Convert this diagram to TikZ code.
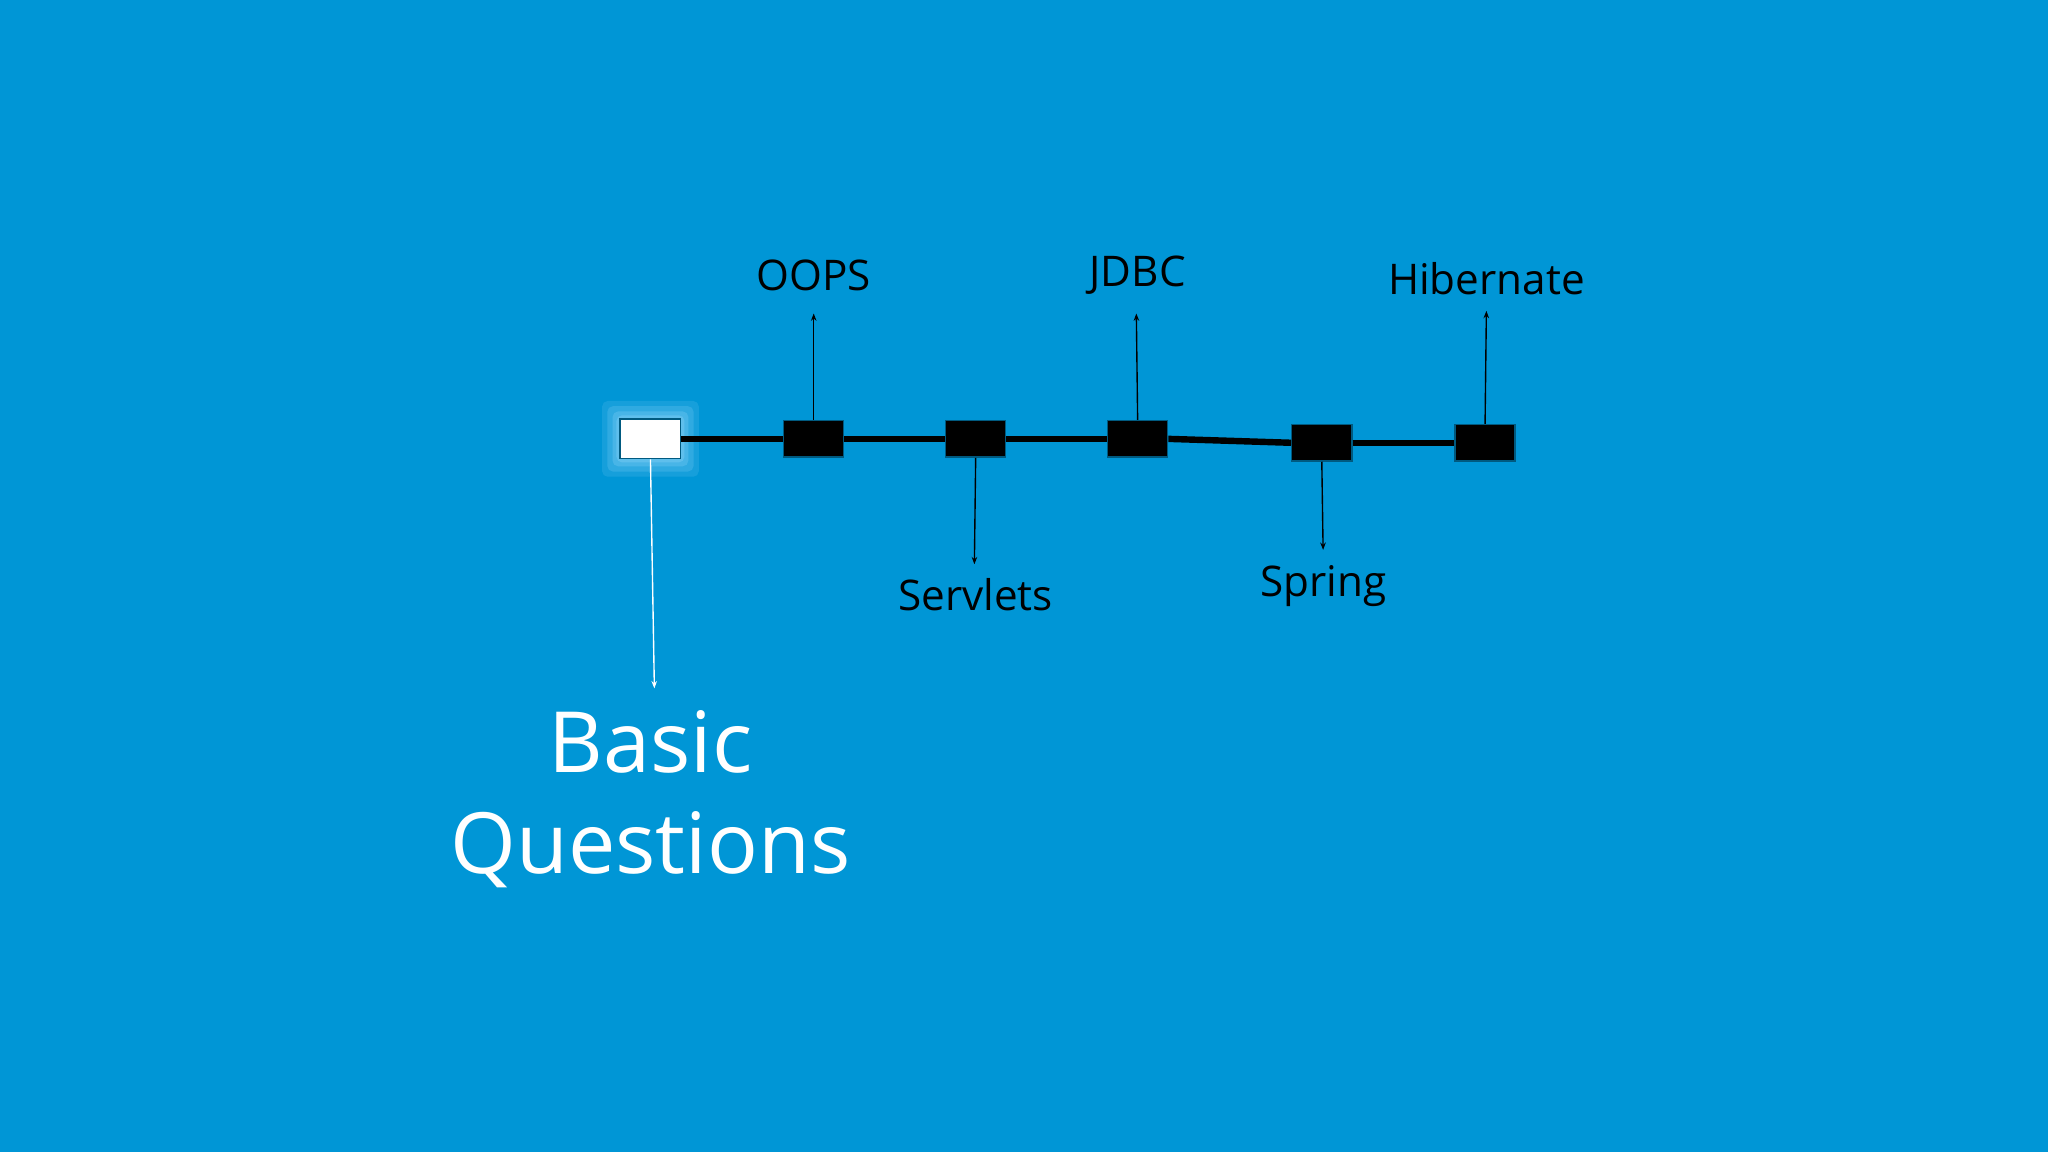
\documentclass[tikz,border=0pt]{standalone}
\usepackage{fontspec}
\setmainfont{Open Sans}
\usetikzlibrary{arrows.meta}
\definecolor{bg}{RGB}{0,150,214}
\definecolor{glow}{RGB}{150,215,250}
\begin{document}
\begin{tikzpicture}[x=0.05cm,y=-0.05cm,
  blk/.style={draw=bg!60!black,line width=1.5pt,fill=black,minimum width=46*0.05cm,minimum height=28*0.05cm,inner sep=0},
  lbl/.style={font=\fontsize{46}{52}\selectfont,text=black},
  arr/.style={-{Stealth[length=8pt,width=6pt]},line width=1.5pt}]
\fill[bg] (0,0) rectangle (1568,882);
\useasboundingbox (0,0) rectangle (1568,882);
\foreach \d/\o in {14/0.15,10/0.2,6/0.25,3/0.3}
  \fill[glow,opacity=\o,rounded corners=6pt] (475-\d,321-\d) rectangle (521+\d,351+\d);
\node[draw=bg!60!black,line width=2pt,fill=white,minimum width=46*0.05cm,minimum height=30*0.05cm,inner sep=0] (b0) at (498,336) {};
\node[blk] (b1) at (623,336) {};
\node[blk] (b2) at (747,336) {};
\node[blk] (b3) at (871,336) {};
\node[blk] (b4) at (1012,339) {};
\node[blk] (b5) at (1137,339) {};
\foreach \a/\b in {b0/b1,b1/b2,b2/b3,b3/b4,b4/b5}
  \draw[line width=7pt] (\a.east) -- (\b.west);
\node[lbl] (t1) at (623,211) {OOPS};
\node[lbl] (t3) at (871,211) {JDBC};
\node[lbl] (t5) at (1138,213) {Hibernate};
\node[lbl] (t2) at (747,455) {Servlets};
\node[lbl] (t4) at (1013,449) {Spring};
\coordinate (c1) at (623,240);
\coordinate (c3) at (870,240);
\coordinate (c5) at (1138,238);
\coordinate (c2) at (746,432);
\coordinate (c4) at (1013,421);
\coordinate (c0) at (501,527);
\draw[arr] (b1.north) -- (c1);
\draw[arr] (b3.north) -- (c3);
\draw[arr] (b5.north) -- (c5);
\draw[arr] (b2.south) -- (c2);
\draw[arr] (b4.south) -- (c4);
\draw[arr,white] (b0.south) -- (c0);
\node[text=white,font=\fontsize{92}{110}\selectfont,align=center] (bq) at (498,612) {Basic\\Questions};
\end{tikzpicture}
\end{document}
